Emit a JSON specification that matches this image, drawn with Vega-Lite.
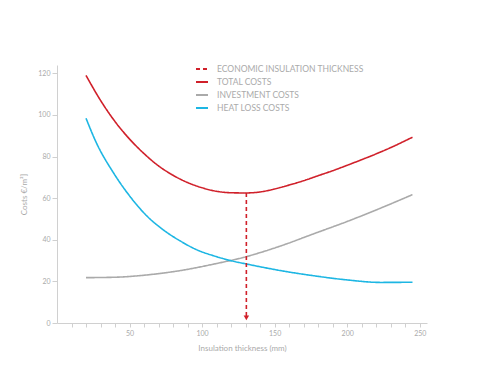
{
  "$schema": "https://vega.github.io/schema/vega-lite/v6.json",
  "width": 370,
  "height": 258,
  "autosize": {"type": "none"},
  "padding": {"left": 57, "top": 65, "right": 51, "bottom": 64},
  "background": "white",
  "config": {
    "view": {"stroke": null},
    "font": "Lato",
    "axis": {
      "domainColor": "#d0d0d0",
      "tickColor": "#d0d0d0",
      "labelColor": "#aaaaaa",
      "titleColor": "#aaaaaa",
      "labelFontSize": 7,
      "titleFontSize": 8,
      "titleFontWeight": "normal",
      "grid": false,
      "tickSize": 5
    }
  },
  "datasets": {
    "curves": [
      {"series": "TOTAL COSTS", "x": 20, "y": 119},
      {"series": "TOTAL COSTS", "x": 30, "y": 107},
      {"series": "TOTAL COSTS", "x": 40, "y": 96.8},
      {"series": "TOTAL COSTS", "x": 50, "y": 88.4},
      {"series": "TOTAL COSTS", "x": 60, "y": 81.4},
      {"series": "TOTAL COSTS", "x": 70, "y": 75.5},
      {"series": "TOTAL COSTS", "x": 80, "y": 71},
      {"series": "TOTAL COSTS", "x": 90, "y": 67.5},
      {"series": "TOTAL COSTS", "x": 100, "y": 65},
      {"series": "TOTAL COSTS", "x": 110, "y": 63.3},
      {"series": "TOTAL COSTS", "x": 120, "y": 62.6},
      {"series": "TOTAL COSTS", "x": 130, "y": 62.5},
      {"series": "TOTAL COSTS", "x": 140, "y": 63},
      {"series": "TOTAL COSTS", "x": 150, "y": 64.4},
      {"series": "TOTAL COSTS", "x": 160, "y": 66.3},
      {"series": "TOTAL COSTS", "x": 170, "y": 68.4},
      {"series": "TOTAL COSTS", "x": 180, "y": 70.8},
      {"series": "TOTAL COSTS", "x": 190, "y": 73.2},
      {"series": "TOTAL COSTS", "x": 200, "y": 75.8},
      {"series": "TOTAL COSTS", "x": 210, "y": 78.5},
      {"series": "TOTAL COSTS", "x": 220, "y": 81.3},
      {"series": "TOTAL COSTS", "x": 230, "y": 84.3},
      {"series": "TOTAL COSTS", "x": 245, "y": 89.3},
      {"series": "INVESTMENT COSTS", "x": 20, "y": 21.8},
      {"series": "INVESTMENT COSTS", "x": 40, "y": 22},
      {"series": "INVESTMENT COSTS", "x": 62, "y": 23.1},
      {"series": "INVESTMENT COSTS", "x": 85, "y": 25.2},
      {"series": "INVESTMENT COSTS", "x": 108, "y": 28.3},
      {"series": "INVESTMENT COSTS", "x": 131, "y": 32},
      {"series": "INVESTMENT COSTS", "x": 154, "y": 37},
      {"series": "INVESTMENT COSTS", "x": 177, "y": 42.9},
      {"series": "INVESTMENT COSTS", "x": 200, "y": 48.8},
      {"series": "INVESTMENT COSTS", "x": 223, "y": 55.2},
      {"series": "INVESTMENT COSTS", "x": 245, "y": 61.7},
      {"series": "HEAT LOSS COSTS", "x": 20, "y": 98.4},
      {"series": "HEAT LOSS COSTS", "x": 27, "y": 86.8},
      {"series": "HEAT LOSS COSTS", "x": 39, "y": 72.1},
      {"series": "HEAT LOSS COSTS", "x": 50, "y": 61.1},
      {"series": "HEAT LOSS COSTS", "x": 62, "y": 51.4},
      {"series": "HEAT LOSS COSTS", "x": 73, "y": 44.9},
      {"series": "HEAT LOSS COSTS", "x": 85, "y": 39.4},
      {"series": "HEAT LOSS COSTS", "x": 96, "y": 35.3},
      {"series": "HEAT LOSS COSTS", "x": 108, "y": 32.3},
      {"series": "HEAT LOSS COSTS", "x": 119, "y": 30.1},
      {"series": "HEAT LOSS COSTS", "x": 131, "y": 28.3},
      {"series": "HEAT LOSS COSTS", "x": 154, "y": 25.2},
      {"series": "HEAT LOSS COSTS", "x": 177, "y": 22.7},
      {"series": "HEAT LOSS COSTS", "x": 200, "y": 20.7},
      {"series": "HEAT LOSS COSTS", "x": 223, "y": 19.5},
      {"series": "HEAT LOSS COSTS", "x": 245, "y": 19.6}
    ],
    "economic": [
      {"series": "ECONOMIC INSULATION THICKNESS", "x": 130.5, "y": 62.5, "y2": 2.5}
    ]
  },
  "layer": [
    {
      "data": {"name": "curves"},
      "mark": {"type": "line", "interpolate": "monotone", "strokeWidth": 1.6},
      "encoding": {
        "x": {
          "field": "x", "type": "quantitative",
          "scale": {"domain": [0, 255], "nice": false},
          "axis": {
            "title": "Insulation thickness (mm)",
            "values": [10, 20, 30, 40, 50, 60, 70, 80, 90, 100, 110, 120, 130, 140, 150, 160, 170, 180, 190, 200, 210, 220, 230, 240, 250],
            "tickCount": 30,
            "labelExpr": "datum.value % 50 === 0 ? datum.label : ''",
            "labelOverlap": false,
            "labelBound": false,
            "tickSize": 4,
            "titlePadding": 8
          }
        },
        "y": {
          "field": "y", "type": "quantitative",
          "scale": {"domain": [0, 124], "nice": false},
          "axis": {
            "title": "Costs €/m²]",
            "values": [0, 20, 40, 60, 80, 100, 120],
            "titlePadding": 9
          }
        },
        "color": {
          "field": "series", "type": "nominal",
          "scale": {
            "domain": ["ECONOMIC INSULATION THICKNESS", "TOTAL COSTS", "INVESTMENT COSTS", "HEAT LOSS COSTS"],
            "range": ["#d0202a", "#d0202a", "#aaaaaa", "#1db6e3"]
          },
          "legend": {
            "title": null,
            "orient": "none",
            "legendX": 138,
            "legendY": -3,
            "symbolType": "stroke",
            "symbolSize": 144,
            "symbolStrokeWidth": 2,
            "labelFontSize": 8.5,
            "labelColor": "#aaaaaa",
            "rowPadding": 1,
            "labelOffset": 8
          }
        },
        "strokeDash": {
          "field": "series", "type": "nominal",
          "scale": {
            "domain": ["ECONOMIC INSULATION THICKNESS", "TOTAL COSTS", "INVESTMENT COSTS", "HEAT LOSS COSTS"],
            "range": [[4, 3], [1, 0], [1, 0], [1, 0]]
          },
          "legend": {
            "title": null,
            "orient": "none",
            "legendX": 138,
            "legendY": -3,
            "symbolType": "stroke",
            "symbolSize": 144,
            "symbolStrokeWidth": 2,
            "labelFontSize": 8.5,
            "labelColor": "#aaaaaa",
            "rowPadding": 1,
            "labelOffset": 8
          }
        }
      }
    },
    {
      "data": {"name": "economic"},
      "mark": {"type": "rule", "strokeWidth": 1.6},
      "encoding": {
        "x": {"field": "x", "type": "quantitative"},
        "y": {"field": "y", "type": "quantitative"},
        "y2": {"field": "y2"},
        "color": {"field": "series", "type": "nominal"},
        "strokeDash": {"field": "series", "type": "nominal"}
      }
    },
    {
      "data": {"name": "economic"},
      "mark": {"type": "point", "shape": "triangle-down", "filled": true, "size": 30, "opacity": 1},
      "encoding": {
        "x": {"field": "x", "type": "quantitative"},
        "y": {"field": "y2", "type": "quantitative"},
        "color": {"field": "series", "type": "nominal", "legend": null}
      }
    }
  ]
}
